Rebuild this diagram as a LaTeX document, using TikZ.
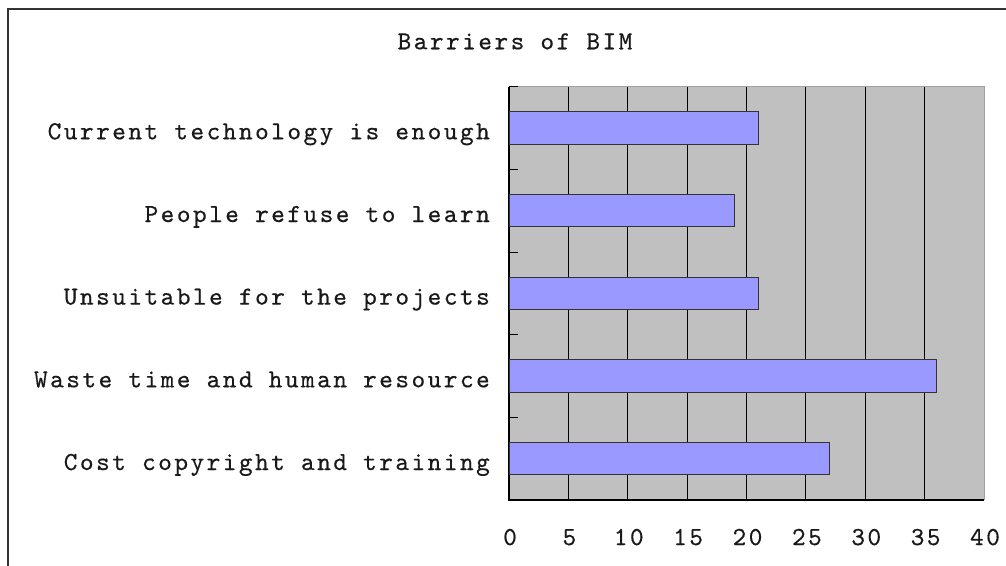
\documentclass[tikz,border=0pt]{standalone}
\usepackage{fontspec}
\newfontfamily\chartfam{lmmono10-regular.otf}[LetterSpace=9.6, FakeBold=0.4]
\definecolor{plotgray}{HTML}{C0C0C0}
\definecolor{barblue}{HTML}{9999FF}
\definecolor{edgegray}{HTML}{A0A0A0}
\newcommand\chartfont{\chartfam\fontsize{26}{26}\selectfont}
\tikzset{
  lbl/.style={font=\chartfont, inner sep=0pt, text=black!90},
  gridline/.style={draw=black, line width=1.1pt},
  barbox/.style={fill=barblue, draw=black!80, line width=1pt},
}
\begin{document}
\begin{tikzpicture}[x=1pt,y=-1pt]
\useasboundingbox (0,0) rectangle (1006,565);
\fill[white] (0,0) rectangle (1006,565);
% outer frame (continues beyond the picture)
\draw[black!80, line width=1.3pt] (8,575) -- (8,9) -- (1016,9);
% plot area
\fill[plotgray] (509,86.7) rectangle (984,500);
\draw[edgegray, line width=1pt] (509,86.7) -- (984,86.7) -- (984,500);
% vertical grid lines
\foreach \k in {1,...,7}{
  \draw[gridline] ({509+\k*59.375},86.7) -- ({509+\k*59.375},500);
}
% axes
\draw[black, line width=1.2pt] (509,86.7) -- (509,500) -- (984,500);
% category ticks
\foreach \i in {0,...,5}{
  \draw[black, line width=1pt] (509,{86.7+\i*82.66}) -- (518,{86.7+\i*82.66});
}
% bars
\foreach \i/\v in {1/21,2/19,3/21,4/36,5/27}{
  \draw[barbox] (509,{86.7+(\i-0.5)*82.66-16.25}) rectangle ({509+\v*11.875},{86.7+(\i-0.5)*82.66+16.25});
}
% title
\node[lbl, anchor=base] (title) at (515,49.3) {Barriers of BIM};
% category labels
\node[lbl, anchor=base east] (c1) at (490,139.3) {Current technology is enough};
\node[lbl, anchor=base east] (c2) at (490,222.0) {People refuse to learn};
\node[lbl, anchor=base east] (c3) at (490,304.6) {Unsuitable for the projects};
\node[lbl, anchor=base east] (c4) at (490,387.3) {Waste time and human resource};
\node[lbl, anchor=base east] (c5) at (490,470.0) {Cost copyright and training};
% x tick labels
\foreach \k/\t in {0/0,1/5,2/10,3/15,4/20,5/25,6/30,7/35,8/40}{
  \node[lbl, anchor=base] (x\k) at ({510+\k*59.375},545) {\t};
}
\end{tikzpicture}
\end{document}
